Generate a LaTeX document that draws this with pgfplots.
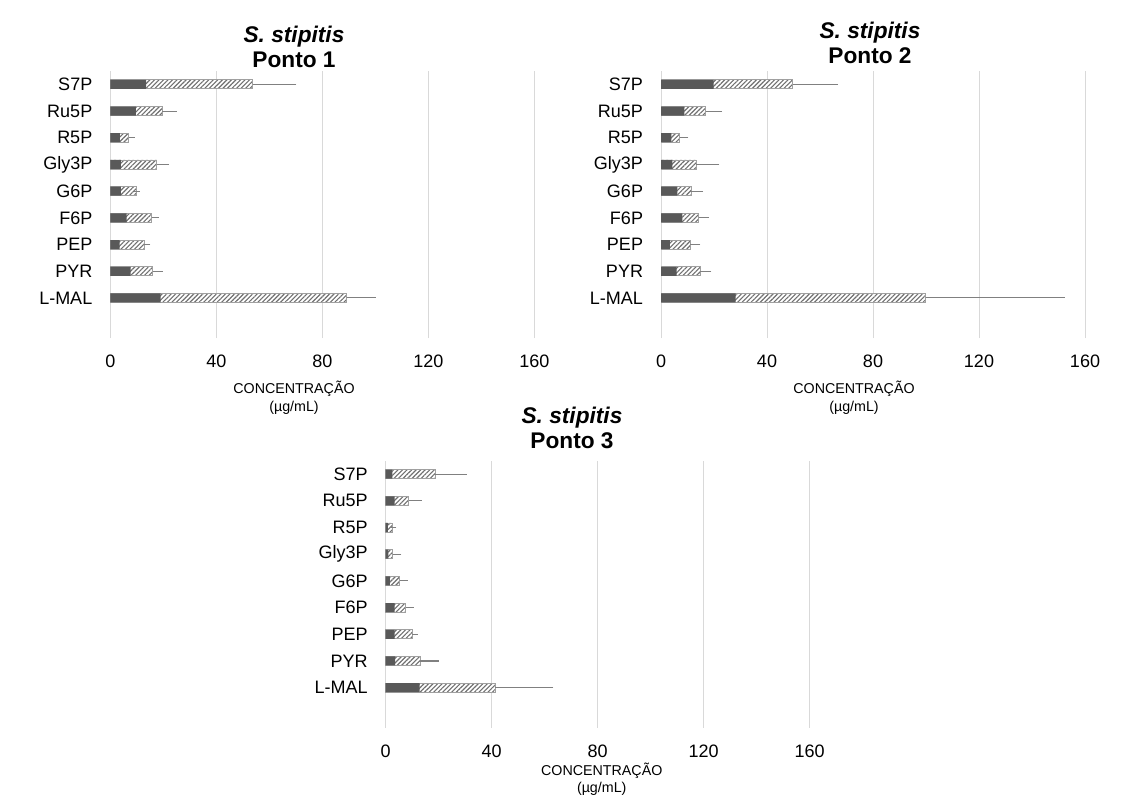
\documentclass[border=0pt]{standalone}
\usepackage{pgfplots}
\pgfplotsset{compat=1.18}
\usepackage{pgfplotstable}
\usetikzlibrary{patterns.meta}
\usepackage{fontspec}
\setmainfont{Liberation Sans}
\definecolor{darkbar}{HTML}{595959}
\definecolor{hatchc}{HTML}{707070}
\definecolor{hatchborder}{HTML}{A0A0A0}
\definecolor{gridc}{HTML}{D9D9D9}
\definecolor{errc}{HTML}{808080}

% y: 0=L-MAL ... 8=S7P
\pgfplotstableread{
y dark total err
0 19.0 89.2 9.9
1 7.7 16.0 2.7
2 3.5 12.7 1.3
3 6.2 15.6 1.6
4 4.0 9.7 0.3
5 4.0 17.5 3.6
6 3.6 6.9 1.2
7 9.7 19.7 4.2
8 13.5 53.7 15.4
}\tA
\pgfplotstableread{
y dark total err
0 28.2 99.9 51.3
1 5.9 14.8 3.1
2 3.3 11.1 2.6
3 8.1 14.2 2.8
4 6.2 11.4 3.4
5 4.3 13.3 7.6
6 3.9 7.0 2.2
7 8.8 16.9 5.0
8 19.9 49.7 16.0
}\tB
\pgfplotstableread{
y dark total err
0 12.8 41.3 20.8
1 3.5 13.1 5.8
2 3.4 10.0 1.0
3 3.4 7.6 1.9
4 1.6 5.3 1.9
5 1.0 2.7 2.1
6 0.8 2.4 0.5
7 3.4 8.7 3.8
8 2.5 18.6 10.8
}\tC

\pgfplotsset{
 metab/.style={
  scale only axis, width=318pt, height=200.25pt,
  xmin=0, xmax=160, ymin=-1.5, ymax=8.5,
  xtick={0,40,80,120,160}, ytick={0,...,8},
  yticklabels={L-MAL,PYR,PEP,F6P,G6P,Gly3P,R5P,Ru5P,S7P},
  xmajorgrids, grid style={gridc, line width=0.75pt},
  axis line style={draw=none}, major tick length=0pt,
  tick label style={font=\fontsize{13.5}{16}\selectfont},
  /pgf/number format/assume math mode=true,
  xticklabel style={inner sep=0pt, yshift=-12.75pt, anchor=north},
  yticklabel style={inner sep=0pt, xshift=-13.3pt, anchor=east},
  xbar, bar width=6.75pt,
  clip=false,
  anchor=south west,
 },
 hatchbar/.style={draw=hatchborder, line width=0.6pt, fill=white, bar shift=0pt,
   postaction={pattern={Lines[angle=45,distance=2.4pt,line width=0.85pt]}, pattern color=hatchc},
   error bars/.cd, x dir=plus, x explicit,
   error bar style={errc, line width=0.8pt},
   error mark options={errc, line width=0.8pt, mark size=2.25pt}},
 darkbarst/.style={fill=darkbar, draw=none, bar shift=0pt},
}

\begin{document}
\begin{tikzpicture}
\useasboundingbox (0,0) rectangle (849pt,-600pt);

\begin{axis}[metab, at={(82.7pt,-253.5pt)}]
\addplot[hatchbar] table[x=total, y=y, x error=err] {\tA};
\addplot[darkbarst] table[x=dark, y=y] {\tA};
\end{axis}

\begin{axis}[metab, at={(495.75pt,-253.5pt)}]
\addplot[hatchbar] table[x=total, y=y, x error=err] {\tB};
\addplot[darkbarst] table[x=dark, y=y] {\tB};
\end{axis}

\begin{axis}[metab, at={(289.3pt,-545.8pt)}]
\addplot[hatchbar] table[x=total, y=y, x error=err] {\tC};
\addplot[darkbarst] table[x=dark, y=y] {\tC};
\end{axis}

\node[font=\fontsize{17}{18.75}\selectfont\bfseries, align=center] at (220.5pt,-34.9pt) {\textit{S. stipitis}\\Ponto 1};
\node[font=\fontsize{17}{18.75}\selectfont\bfseries, align=center] at (652.5pt,-31.9pt) {\textit{S. stipitis}\\Ponto 2};
\node[font=\fontsize{17}{18.75}\selectfont\bfseries, align=center] at (429pt,-320.6pt) {\textit{S. stipitis}\\Ponto 3};

\node[font=\fontsize{10.7}{13.5}\selectfont, align=center] at (220.5pt,-298.5pt) {CONCENTRAÇÃO\\(µg/mL)};
\node[font=\fontsize{10.7}{13.5}\selectfont, align=center] at (640.5pt,-298.5pt) {CONCENTRAÇÃO\\(µg/mL)};
\node[font=\fontsize{10.7}{12.75}\selectfont, align=center] at (451.3pt,-584.6pt) {CONCENTRAÇÃO\\(µg/mL)};
\end{tikzpicture}
\end{document}
